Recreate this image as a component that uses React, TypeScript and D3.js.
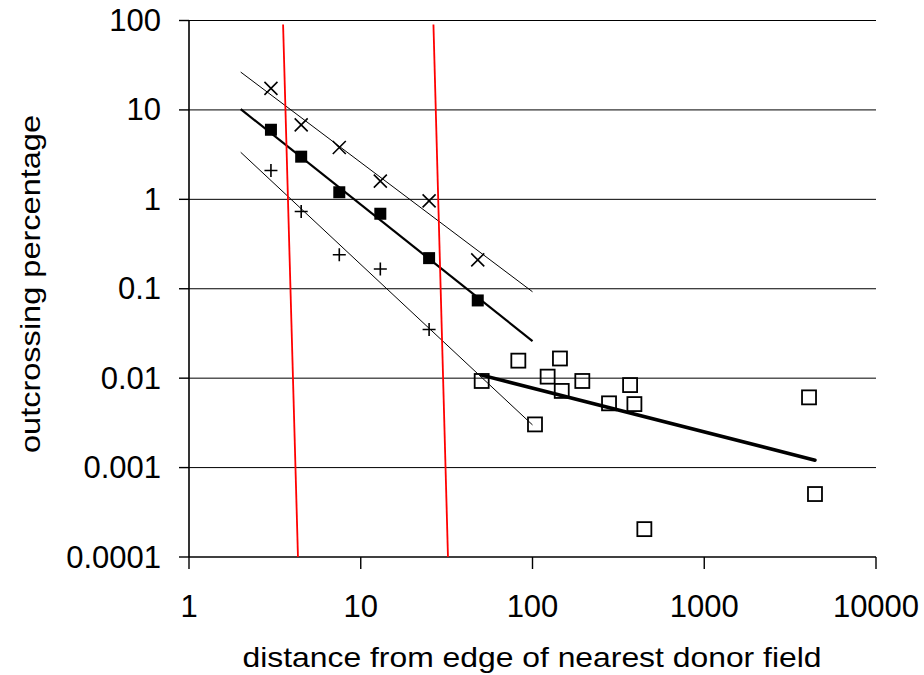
import React from 'react'
import * as d3 from 'd3'

// field distances (m) for the three within-field series
const nearDistances = [3, 4.5, 7.5, 13, 25, 48]
const maxOutcrossing = [17.4, 6.8, 3.8, 1.6, 0.96, 0.21]
const meanOutcrossing = [6.0, 3.0, 1.2, 0.69, 0.22, 0.074]
const minDistances = [3, 4.5, 7.5, 13, 25]
const minOutcrossing = [2.1, 0.73, 0.24, 0.166, 0.035]

// isolated fields
const farDistances = [50.6, 82.7, 144.5, 122.5, 148, 195, 279, 370, 392, 103.4, 448, 4074, 4413]
const farOutcrossing = [0.0093, 0.0157, 0.0166, 0.0104, 0.0072, 0.0093, 0.00523, 0.00837, 0.00513, 0.00304, 0.000205, 0.0061, 0.000506]

// trend lines [x, y] endpoints
const maxTrend = [[2, 26.5], [100, 0.0925]]
const meanTrend = [[2, 10.2], [100, 0.026]]
const minTrend = [[2, 3.36], [100, 0.003]]
const farTrend = [[50.6, 0.0108], [4415, 0.00121]]

// red reference lines
const redLeft = [[3.53, 90], [4.31, 0.0001]]
const redRight = [[26.5, 90], [32.2, 0.0001]]

const xTicks = [1, 10, 100, 1000, 10000]
const yTicks = [0.0001, 0.001, 0.01, 0.1, 1, 10, 100]
const yTickLabels = ['0.0001', '0.001', '0.01', '0.1', '1', '10', '100']

const W = 924
const H = 675
const left = 189
const right = 876
const top = 20.5
const bottom = 557

const App = () => {
  const x = d3.scaleLog().domain([1, 10000]).range([left, right])
  const y = d3.scaleLog().domain([0.0001, 100]).range([bottom, top])
  const line = d3
    .line<number[]>()
    .x((d) => x(d[0]))
    .y((d) => y(d[1]))

  const font = 'Liberation Sans, Arial, sans-serif'

  return (
    <svg width={W} height={H} style={{ position: 'absolute', left: 0, top: 0, background: '#fff' }}>
      {/* gridlines */}
      {yTicks.slice(1).map((t) => (
        <line key={t} x1={left} x2={right} y1={y(t)} y2={y(t)} stroke='#000' strokeWidth={1} />
      ))}
      {/* axes */}
      <line x1={left} x2={left} y1={top} y2={bottom} stroke='#000' strokeWidth={1.6} />
      <line x1={left} x2={right} y1={bottom} y2={bottom} stroke='#000' strokeWidth={1.6} />
      {yTicks.map((t, i) => (
        <g key={t}>
          <line x1={left - 10} x2={left} y1={y(t)} y2={y(t)} stroke='#000' strokeWidth={1.4} />
          <text
            x={161}
            y={y(t)}
            textAnchor='end'
            dominantBaseline='central'
            fontFamily={font}
            fontSize={31}
          >
            {yTickLabels[i]}
          </text>
        </g>
      ))}
      {xTicks.map((t) => (
        <g key={t}>
          <line x1={x(t)} x2={x(t)} y1={bottom} y2={bottom + 12} stroke='#000' strokeWidth={1.4} />
          <text x={x(t)} y={606} textAnchor='middle' dominantBaseline='central' fontFamily={font} fontSize={31}>
            {t}
          </text>
        </g>
      ))}
      <text
        x={532}
        y={657}
        textAnchor='middle'
        dominantBaseline='central'
        fontFamily={font}
        fontSize={28}
        textLength={579}
        lengthAdjust='spacingAndGlyphs'
      >
        distance from edge of nearest donor field
      </text>
      <text
        transform={`translate(30, 284) rotate(-90)`}
        textAnchor='middle'
        dominantBaseline='central'
        fontFamily={font}
        fontSize={28}
        textLength={338}
        lengthAdjust='spacingAndGlyphs'
      >
        outcrossing percentage
      </text>

      {/* trend lines */}
      <path d={line(maxTrend) || ''} stroke='#000' strokeWidth={1} fill='none' />
      <path d={line(minTrend) || ''} stroke='#000' strokeWidth={1} fill='none' />
      <path d={line(meanTrend) || ''} stroke='#000' strokeWidth={2.2} fill='none' />

      {/* markers */}
      {nearDistances.map((d, i) => (
        <path
          key={'x' + i}
          d={`M${x(d) - 6.5},${y(maxOutcrossing[i]) - 6.5}l13,13M${x(d) + 6.5},${y(maxOutcrossing[i]) - 6.5}l-13,13`}
          stroke='#000'
          strokeWidth={1.6}
        />
      ))}
      {nearDistances.map((d, i) => (
        <rect key={'m' + i} x={x(d) - 6} y={y(meanOutcrossing[i]) - 6} width={12} height={12} fill='#000' />
      ))}
      {minDistances.map((d, i) => (
        <path
          key={'p' + i}
          d={`M${x(d) - 6.5},${y(minOutcrossing[i])}h13M${x(d)},${y(minOutcrossing[i]) - 6.5}v13`}
          stroke='#000'
          strokeWidth={1.6}
        />
      ))}
      {farDistances.map((d, i) => (
        <rect
          key={'f' + i}
          x={x(d) - 7}
          y={y(farOutcrossing[i]) - 7}
          width={14}
          height={14}
          fill='none'
          stroke='#000'
          strokeWidth={1.8}
        />
      ))}
      <path d={line(farTrend) || ''} stroke='#000' strokeWidth={3.5} fill='none' strokeLinecap='round' />

      {/* red lines */}
      <path d={line(redLeft) || ''} stroke='#ff0000' strokeWidth={1.8} fill='none' />
      <path d={line(redRight) || ''} stroke='#ff0000' strokeWidth={1.8} fill='none' />
    </svg>
  )
}

export default App
